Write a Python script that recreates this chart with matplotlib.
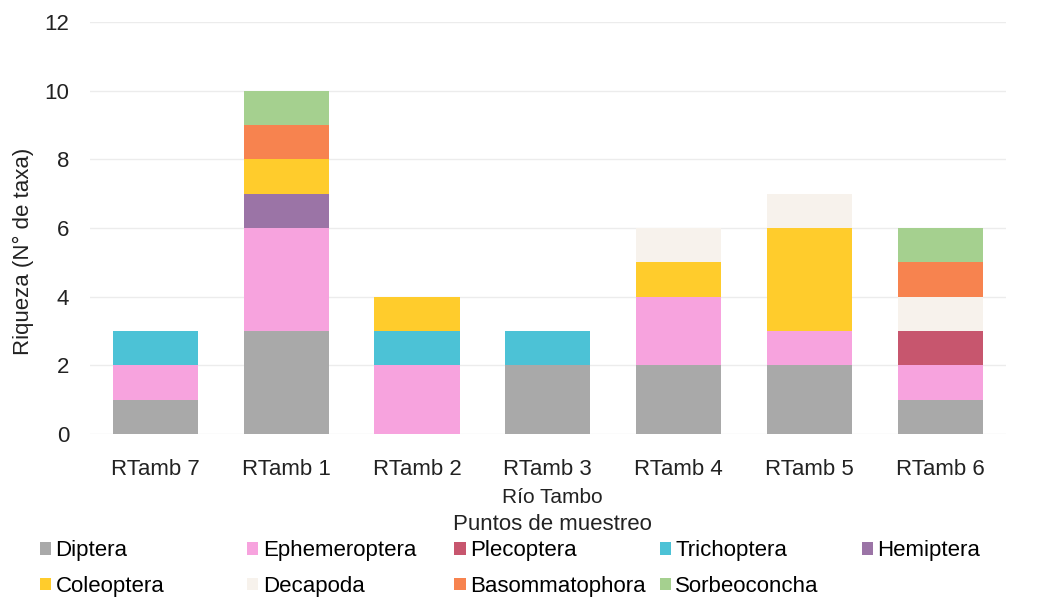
import matplotlib.pyplot as plt
from matplotlib.patches import Patch

plt.rcParams['font.family'] = ['Liberation Sans', 'DejaVu Sans']

puntos = ["RTamb 7", "RTamb 1", "RTamb 2", "RTamb 3", "RTamb 4", "RTamb 5", "RTamb 6"]

diptera = [1, 3, 0, 2, 2, 2, 1]
ephemeroptera = [1, 3, 2, 0, 2, 1, 1]
plecoptera = [0, 0, 0, 0, 0, 0, 1]
trichoptera = [1, 0, 1, 1, 0, 0, 0]
hemiptera = [0, 1, 0, 0, 0, 0, 0]
coleoptera = [0, 1, 1, 0, 1, 3, 0]
decapoda = [0, 0, 0, 0, 1, 1, 1]
basommatophora = [0, 1, 0, 0, 0, 0, 1]
sorbeoconcha = [0, 1, 0, 0, 0, 0, 1]

ordenes = ["Diptera", "Ephemeroptera", "Plecoptera", "Trichoptera", "Hemiptera",
           "Coleoptera", "Decapoda", "Basommatophora", "Sorbeoconcha"]
valores = [diptera, ephemeroptera, plecoptera, trichoptera, hemiptera,
           coleoptera, decapoda, basommatophora, sorbeoconcha]
colores = ["#a9a9a9", "#f7a3de", "#c7566e", "#4cc2d6", "#9b74a6",
           "#ffcc2c", "#f7f2ec", "#f7834f", "#a5d08f"]

fig = plt.figure(figsize=(10.52, 5.99), dpi=100)
ax = fig.add_axes([0.0855, 0.2755, 0.8705, 0.6875])

x = range(len(puntos))
base = [0] * len(puntos)
for nombre, vals, col in zip(ordenes, valores, colores):
    ax.bar(x, vals, 0.65, bottom=base, color=col, label=nombre, zorder=3)
    base = [b + v for b, v in zip(base, vals)]

ax.set_xlim(-0.5, len(puntos) - 0.5)
ax.set_ylim(0, 12)
ax.set_yticks(range(0, 13, 2))
ax.set_xticks(list(x))
ax.set_xticklabels(puntos)
ax.tick_params(axis='both', length=0, labelsize=16, colors='#222222')
ax.tick_params(axis='y', pad=15)
ax.tick_params(axis='x', pad=18)
ax.grid(axis='y', color='#ececec', lw=1, zorder=0)
for s in ax.spines.values():
    s.set_visible(False)

fig.text(0.022, 0.58, "Riqueza (N° de taxa)", rotation=90, ha='center', va='center',
         fontsize=16, color='#222222')
fig.text(0.525, 0.16, "Río Tambo", ha='center', fontsize=15, color='#222222')
fig.text(0.525, 0.115, "Puntos de muestreo", ha='center', fontsize=16, color='#222222')

# legend in five even columns, two rows
col_x = [0.038, 0.235, 0.432, 0.627, 0.819]
for i, cx in enumerate(col_x):
    idx = [j for j in (i, i + 5) if j < len(ordenes)]
    handles = [Patch(facecolor=colores[j], label=ordenes[j]) for j in idx]
    fig.legend(handles=handles, loc='upper left', bbox_to_anchor=(cx, 0.098),
               frameon=False, fontsize=16, handlelength=0.5, handleheight=0.5,
               handletextpad=0.2, labelspacing=0.65, borderpad=0, borderaxespad=0)

fig.savefig("out.png", dpi=100)
